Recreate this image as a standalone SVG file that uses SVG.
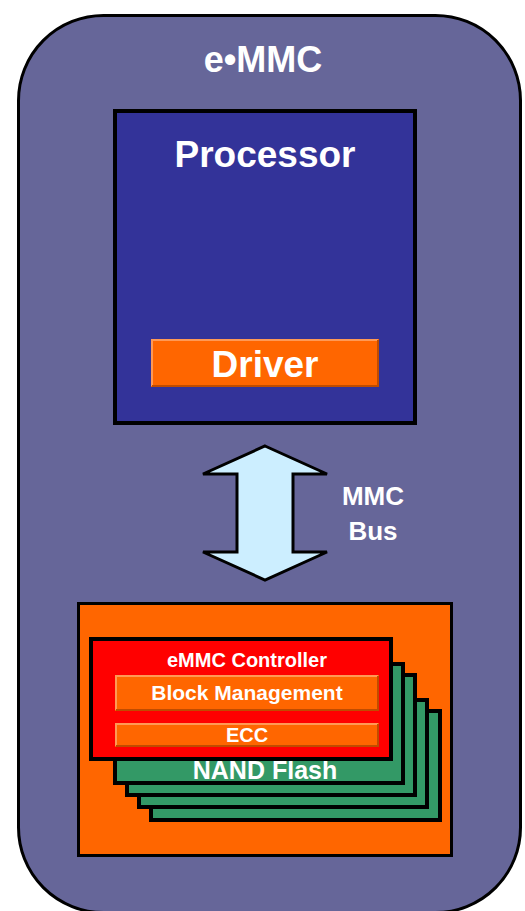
<svg xmlns="http://www.w3.org/2000/svg" width="525" height="911" viewBox="0 0 525 911">
  <style>
    text { font-family: "Liberation Sans", Arial, sans-serif; font-weight: bold; fill: #ffffff; text-anchor: middle; }
    .frame { fill: #666699; stroke: #000000; stroke-width: 3; }
    .cpu { fill: #333399; stroke: #000000; stroke-width: 4; }
    .pkg { fill: #ff6600; stroke: #000000; stroke-width: 3; }
    .ctrl { fill: #ff0000; stroke: #000000; stroke-width: 4; }
    .nand { fill: #339966; stroke: #000000; stroke-width: 4; }
    .bar { fill: #ff6600; }
    .hi { fill: none; stroke: #ff9955; stroke-width: 2; }
    .lo { fill: none; stroke: #c04c00; stroke-width: 2; }
    .bus { fill: #cceeff; stroke: #000000; stroke-width: 3; stroke-linejoin: miter; }
  </style>

  <!-- eMMC package outline -->
  <g id="emmc">
    <rect class="frame" x="18.5" y="15.5" width="502" height="897" rx="85" ry="85"/>
    <text x="263" y="72" font-size="36">e•MMC</text>
  </g>

  <!-- Host processor with its driver -->
  <g id="processor">
    <rect class="cpu" x="115" y="111" width="300" height="312"/>
    <text x="265" y="167" font-size="37">Processor</text>
  </g>
  <g id="driver">
    <rect class="bar" x="151" y="339" width="228" height="48"/>
    <path class="hi" d="M152,386 V340 H378"/>
    <path class="lo" d="M152,386 H378 V340"/>
    <text x="265" y="377" font-size="37">Driver</text>
  </g>

  <!-- Bus between host and device -->
  <g id="connectors">
    <polygon class="bus" points="265,446 327,474 293,474 293,552 327,552 265,580 203,552 237,552 237,474 203,474"/>
  </g>
  <g id="mmc-bus">
    <text x="373" y="505" font-size="26">MMC</text>
    <text x="373" y="540" font-size="26">Bus</text>
  </g>

  <!-- Device side: controller over stacked NAND dies -->
  <g id="device">
    <rect class="pkg" x="78.5" y="603.5" width="373" height="252"/>
  </g>
  <g id="nand-flash">
    <rect class="nand" x="151" y="711" width="289" height="109"/>
    <rect class="nand" x="139" y="700" width="288" height="107"/>
    <rect class="nand" x="127" y="675" width="288" height="120"/>
    <rect class="nand" x="115" y="664" width="288" height="119"/>
    <text x="265" y="779" font-size="25">NAND Flash</text>
  </g>
  <g id="controller">
    <rect class="ctrl" x="91" y="639" width="300" height="120"/>
    <text x="247" y="667" font-size="20">eMMC Controller</text>
  </g>
  <g id="block-management">
    <rect class="bar" x="115" y="675" width="264" height="36"/>
    <path class="hi" d="M116,710 V676 H378"/>
    <path class="lo" d="M116,710 H378 V676"/>
    <text x="247" y="700" font-size="21">Block Management</text>
  </g>
  <g id="ecc">
    <rect class="bar" x="115" y="723" width="264" height="24"/>
    <path class="hi" d="M116,746 V724 H378"/>
    <path class="lo" d="M116,746 H378 V724"/>
    <text x="247" y="742" font-size="20">ECC</text>
  </g>
</svg>
